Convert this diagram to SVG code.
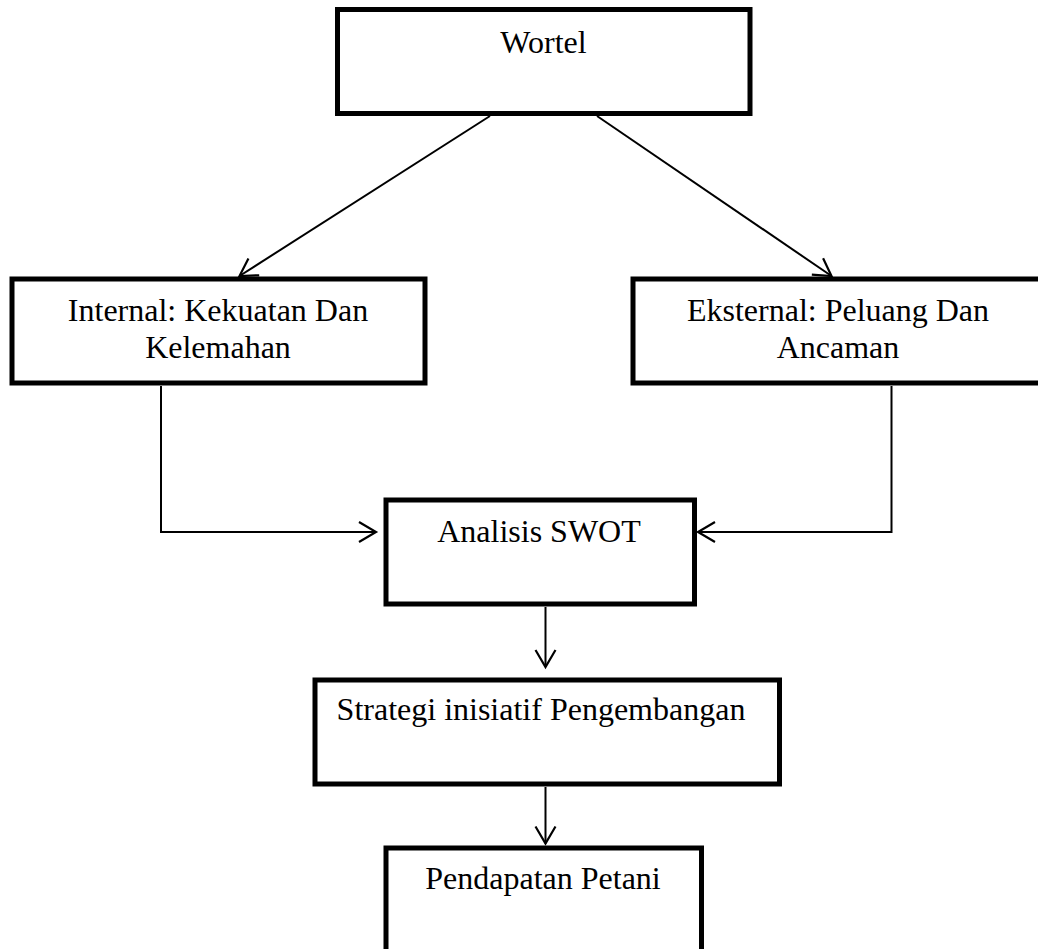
<svg xmlns="http://www.w3.org/2000/svg" width="1038" height="949" viewBox="0 0 1038 949">
<style>
.box{fill:#fff;stroke:#000;stroke-width:5}
.lbl{font-family:"Liberation Serif","Times New Roman",serif;font-size:32px;fill:#000;text-anchor:middle}
.con{fill:none;stroke:#000;stroke-width:2}
</style>
<defs>
<marker id="arr" markerUnits="userSpaceOnUse" markerWidth="24" markerHeight="26" viewBox="-20 -13 24 26" refX="0" refY="0" orient="auto">
<path d="M-17,-10 L0,0 L-17,10" fill="none" stroke="#000" stroke-width="2.2"/>
</marker>
</defs>
<rect width="1038" height="949" fill="#fff"/>
<g id="connectors">
<line class="con" x1="490" y1="116" x2="239.5" y2="276" marker-end="url(#arr)"/>
<line class="con" x1="597" y1="116" x2="831.5" y2="276" marker-end="url(#arr)"/>
<polyline class="con" points="161,386 161,532 376,532" marker-end="url(#arr)"/>
<polyline class="con" points="891.5,386 891.5,532 698,532" marker-end="url(#arr)"/>
<line class="con" x1="545.5" y1="607" x2="545.5" y2="667" marker-end="url(#arr)"/>
<line class="con" x1="545.5" y1="787" x2="545.5" y2="843.5" marker-end="url(#arr)"/>
</g>
<g id="wortel">
<rect class="box" x="337.5" y="9.5" width="412.5" height="104"/>
<text class="lbl" x="543.5" y="53">Wortel</text>
</g>
<g id="internal">
<rect class="box" x="12" y="279" width="413" height="104"/>
<text class="lbl" x="218" y="321">Internal: Kekuatan Dan</text>
<text class="lbl" x="218" y="358">Kelemahan</text>
</g>
<g id="eksternal">
<rect class="box" x="633" y="279" width="412" height="104"/>
<text class="lbl" x="838" y="321">Eksternal: Peluang Dan</text>
<text class="lbl" x="838" y="358">Ancaman</text>
</g>
<g id="swot">
<rect class="box" x="386" y="500" width="308.5" height="104"/>
<text class="lbl" x="539" y="542">Analisis SWOT</text>
</g>
<g id="strategi">
<rect class="box" x="315" y="680" width="464.5" height="104"/>
<text class="lbl" x="541" y="720">Strategi inisiatif Pengembangan</text>
</g>
<g id="pendapatan">
<rect class="box" x="386" y="848" width="315.5" height="112"/>
<text class="lbl" x="543" y="889">Pendapatan Petani</text>
</g>
</svg>
